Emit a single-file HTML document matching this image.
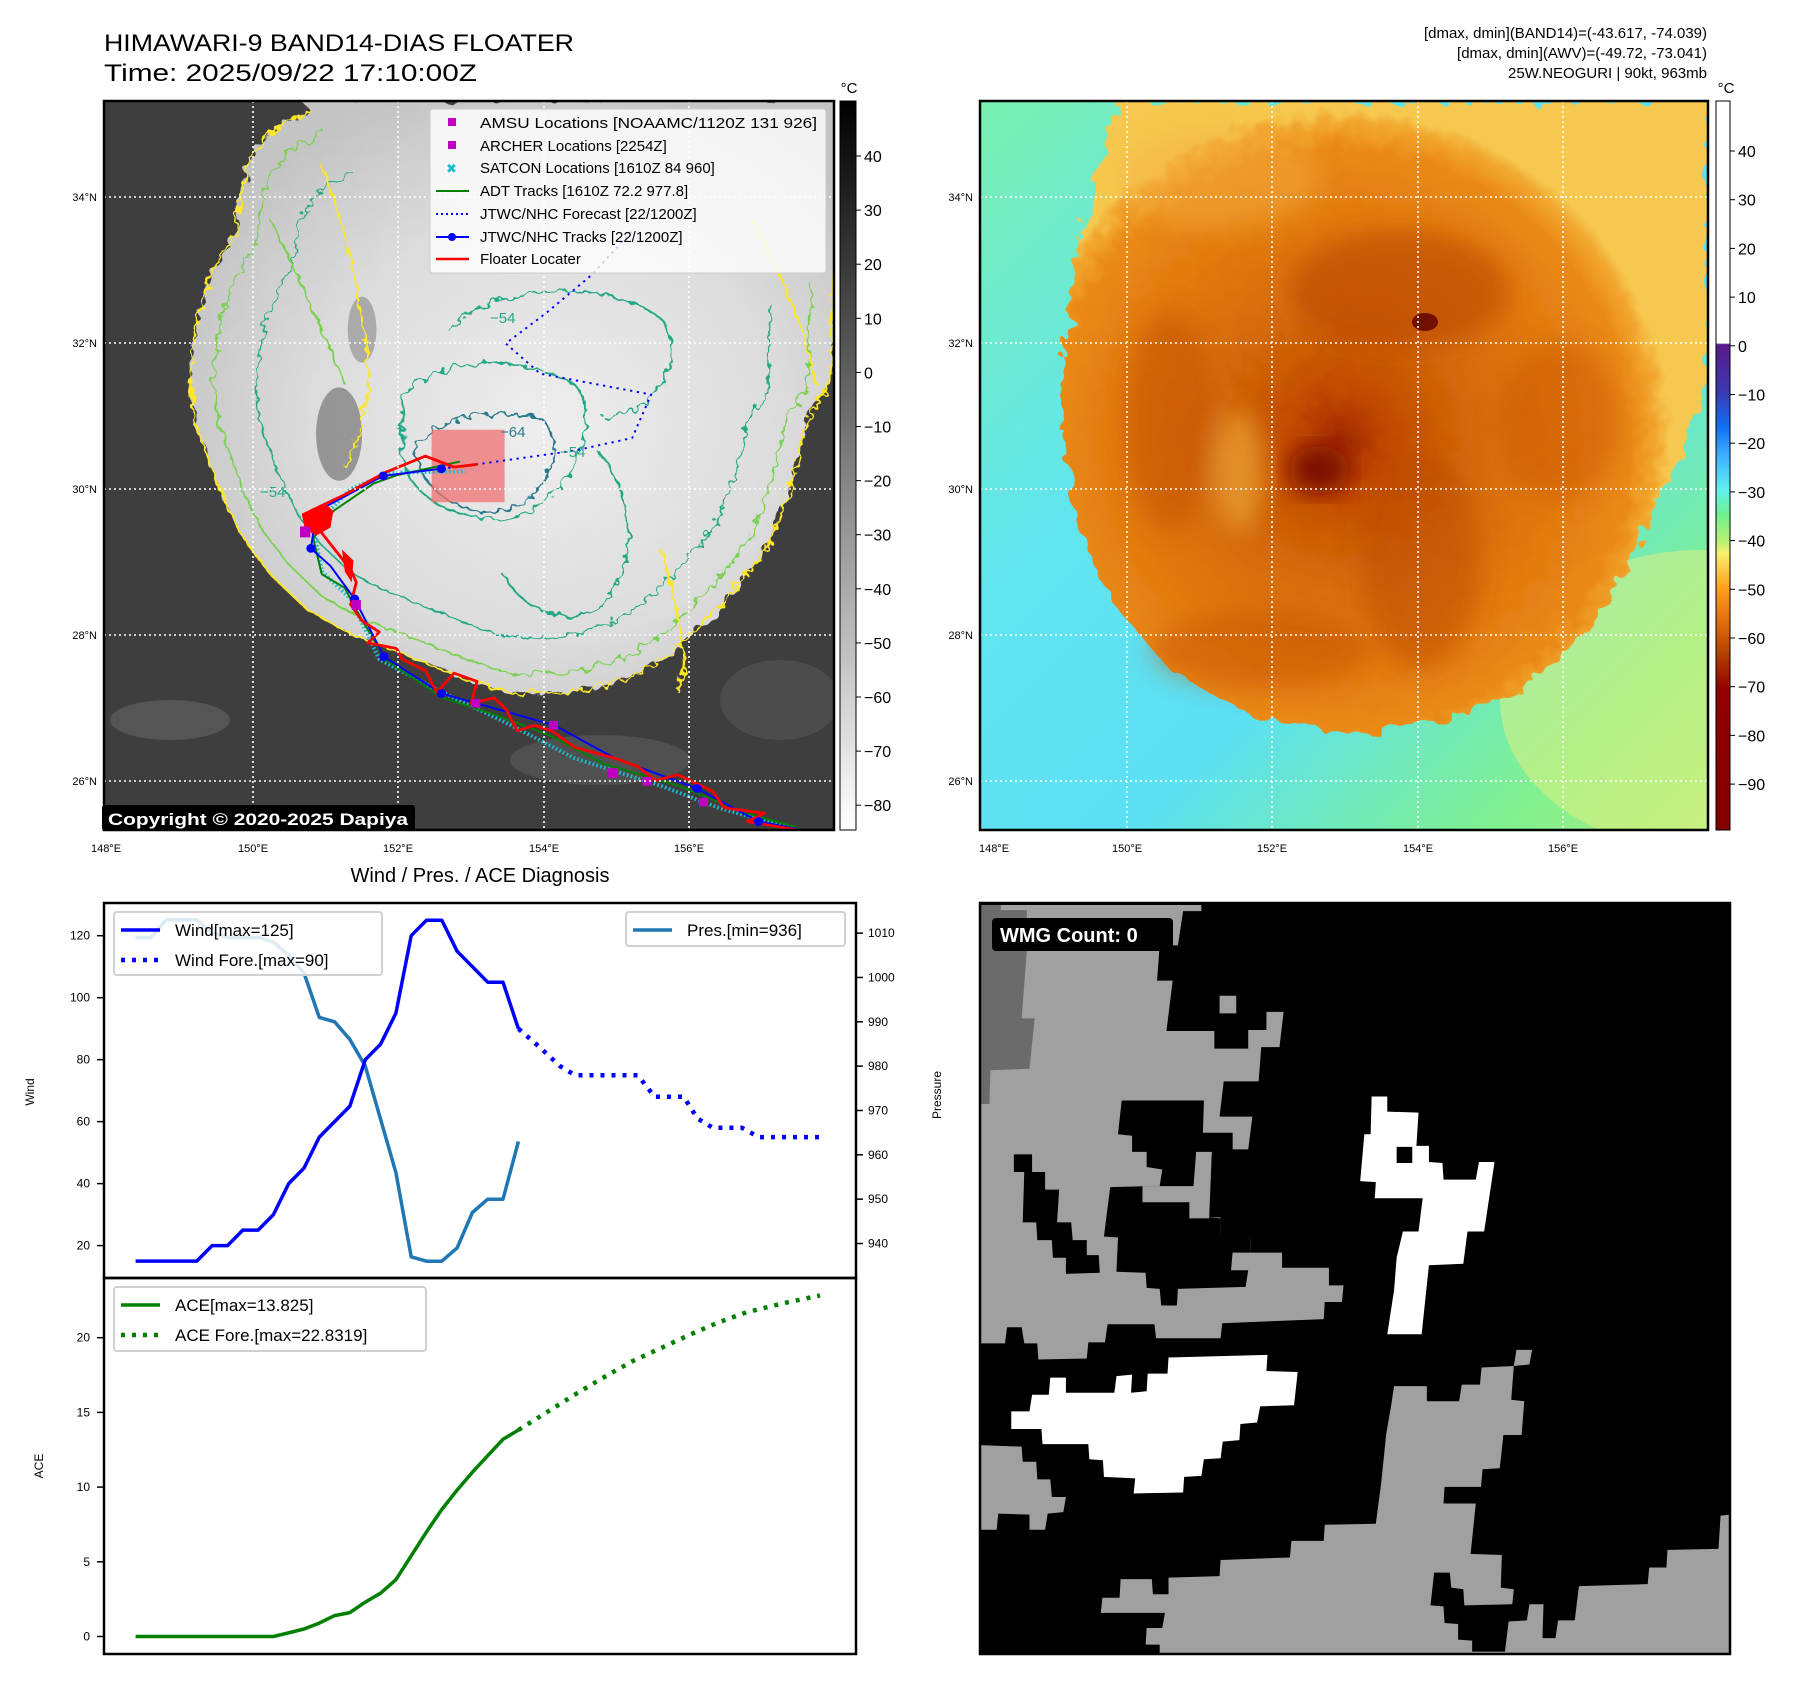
<!DOCTYPE html>
<html><head><meta charset="utf-8"><style>
html,body{margin:0;padding:0;background:#fff}
svg{display:block;font-family:"Liberation Sans","DejaVu Sans",sans-serif}
</style></head><body>
<svg id="fig" xmlns="http://www.w3.org/2000/svg" width="1797" height="1690" viewBox="0 0 1797 1690">
<defs>
<clipPath id="c1"><rect x="104" y="101" width="730" height="729"/></clipPath>
<clipPath id="c2"><rect x="980" y="101" width="728" height="729"/></clipPath>
<clipPath id="c3"><rect x="980" y="903" width="750" height="751"/></clipPath>
<filter id="rough" x="-10%" y="-10%" width="120%" height="120%"><feTurbulence type="fractalNoise" baseFrequency="0.035" numOctaves="2" seed="4"/><feDisplacementMap in="SourceGraphic" scale="28"/></filter>
<filter id="rough2" x="-10%" y="-10%" width="120%" height="120%"><feTurbulence type="fractalNoise" baseFrequency="0.06" numOctaves="2" seed="9"/><feDisplacementMap in="SourceGraphic" scale="22"/></filter>
<filter id="blur" x="-20%" y="-20%" width="140%" height="140%"><feGaussianBlur stdDeviation="12"/></filter>
<radialGradient id="cloudG" cx="0.55" cy="0.55" r="0.6"><stop offset="0" stop-color="#eeeeee"/><stop offset="0.6" stop-color="#dcdcdc"/><stop offset="1" stop-color="#c4c4c4"/></radialGradient>
<radialGradient id="stormG" cx="1340" cy="440" r="330" gradientUnits="userSpaceOnUse"><stop offset="0" stop-color="#a02800"/><stop offset="0.15" stop-color="#c04a00"/><stop offset="0.4" stop-color="#d46a08"/><stop offset="0.7" stop-color="#e27c10"/><stop offset="0.88" stop-color="#ea8a18"/><stop offset="0.96" stop-color="#f2a830"/><stop offset="1" stop-color="#f6c850"/></radialGradient>
<linearGradient id="bg2" x1="0" y1="0" x2="1" y2="1"><stop offset="0" stop-color="#7af0b0"/><stop offset="0.35" stop-color="#60e4f0"/><stop offset="0.6" stop-color="#5ce0f4"/><stop offset="0.85" stop-color="#80f090"/><stop offset="1" stop-color="#a8f080"/></linearGradient>
<linearGradient id="cb1" x1="0" y1="0" x2="0" y2="1"><stop offset="0" stop-color="#000"/><stop offset="1" stop-color="#fff"/></linearGradient>
<linearGradient id="cb2" x1="0" y1="0" x2="0" y2="1">
<stop offset="0" stop-color="#fff"/><stop offset="0.332" stop-color="#fff"/><stop offset="0.334" stop-color="#5a1a8a"/><stop offset="0.4" stop-color="#3a3ab0"/><stop offset="0.447" stop-color="#1070f0"/><stop offset="0.487" stop-color="#40b0ff"/><stop offset="0.533" stop-color="#60f0f0"/><stop offset="0.567" stop-color="#70f090"/><stop offset="0.607" stop-color="#c0f070"/><stop offset="0.62" stop-color="#f8f070"/><stop offset="0.667" stop-color="#ffa020"/><stop offset="0.713" stop-color="#e07010"/><stop offset="0.76" stop-color="#b04000"/><stop offset="0.807" stop-color="#900000"/><stop offset="1" stop-color="#800000"/></linearGradient>
</defs>

<text x="104" y="51" font-size="24" textLength="470" lengthAdjust="spacingAndGlyphs">HIMAWARI-9 BAND14-DIAS FLOATER</text>
<text x="104" y="81" font-size="24" textLength="373" lengthAdjust="spacingAndGlyphs">Time: 2025/09/22 17:10:00Z</text>
<g font-size="15" text-anchor="end">
<text x="1707" y="38">[dmax, dmin](BAND14)=(-43.617, -74.039)</text>
<text x="1707" y="58">[dmax, dmin](AWV)=(-49.72, -73.041)</text>
<text x="1707" y="78">25W.NEOGURI | 90kt, 963mb</text>
</g>

<!-- MAP 2 -->
<g clip-path="url(#c2)">
<rect x="980" y="101" width="728" height="729" fill="url(#bg2)"/>
<ellipse cx="1700" cy="700" rx="200" ry="150" fill="#e8f080" opacity="0.5"/>
<path filter="url(#rough2)" fill="url(#stormG)" d="M1120,101 L1100,160 1075,260 1060,400 1075,520 1110,600 1170,670 1260,720 1360,735 1450,720 1520,690 1580,640 1630,560 1680,460 1708,380 1708,101 Z"/>
<g filter="url(#blur)">
<ellipse cx="1400" cy="290" rx="110" ry="60" fill="#b84400" opacity="0.55"/>
<ellipse cx="1170" cy="420" rx="45" ry="110" fill="#c04c00" opacity="0.45"/>
<ellipse cx="1420" cy="560" rx="60" ry="110" fill="#b84400" opacity="0.45"/>
<ellipse cx="1260" cy="650" rx="110" ry="40" fill="#c04c00" opacity="0.4"/>
<ellipse cx="1560" cy="420" rx="60" ry="80" fill="#c85000" opacity="0.4"/>
<ellipse cx="1220" cy="180" rx="100" ry="50" fill="#f4b040" opacity="0.45"/>
<ellipse cx="1240" cy="470" rx="25" ry="60" fill="#f8c050" opacity="0.5"/>
</g>
<ellipse cx="1319" cy="470" rx="30" ry="24" fill="#7a1000" filter="url(#blur)"/>
<ellipse cx="1425" cy="322" rx="13" ry="9" fill="#701000"/>
</g>
<g stroke="#fff" stroke-width="1.6" stroke-dasharray="2 3">
<line x1="1127" y1="101" x2="1127" y2="830"/><line x1="1272" y1="101" x2="1272" y2="830"/><line x1="1418" y1="101" x2="1418" y2="830"/><line x1="1563" y1="101" x2="1563" y2="830"/>
<line x1="980" y1="197" x2="1708" y2="197"/><line x1="980" y1="343" x2="1708" y2="343"/><line x1="980" y1="489" x2="1708" y2="489"/><line x1="980" y1="635" x2="1708" y2="635"/><line x1="980" y1="781" x2="1708" y2="781"/>
</g>
<rect x="980" y="101" width="728" height="729" fill="none" stroke="#000" stroke-width="2.5"/>
<g font-size="11" text-anchor="end">
<text x="973" y="201">34°N</text><text x="973" y="347">32°N</text><text x="973" y="493">30°N</text><text x="973" y="639">28°N</text><text x="973" y="785">26°N</text></g>
<g font-size="11" text-anchor="middle">
<text x="994" y="852">148°E</text><text x="1127" y="852">150°E</text><text x="1272" y="852">152°E</text><text x="1418" y="852">154°E</text><text x="1563" y="852">156°E</text></g>
<g>
<rect x="1716" y="101" width="14" height="729" fill="url(#cb2)" stroke="#000" stroke-width="1"/>
<text x="1726" y="93" font-size="15" text-anchor="middle">°C</text>
<g id="cb2ticks" font-size="16"></g></g>

<!-- WMG panel -->
<g clip-path="url(#c3)">
<rect x="980" y="903" width="750" height="751" fill="#000"/>
<g transform="translate(980,900) scale(0.5208,0.5038)">
<path fill="#a0a0a0" d="M0,10 L425,10 425,22 390,22 380,90 345,90 340,160 370,160 358,260 450,260 450,295 515,295 515,258 550,258 550,222 583,222 575,292 540,292 535,360 468,360 460,430 523,430 515,495 485,495 485,465 458,465 445,500 440,630 462,630 462,668 520,668 520,700 580,700 580,730 670,730 670,765 698,765 695,798 662,798 660,832 465,840 462,870 338,870 335,842 245,842 240,878 208,878 205,910 112,912 110,880 85,880 80,848 52,848 48,880 0,880 Z"/>
<path fill="#6b6b6b" d="M0,10 L40,10 40,20 90,20 90,100 80,235 105,235 95,335 20,338 18,405 0,405 Z"/>
<path fill="#000" d="M272,398 L430,398 428,462 485,462 485,495 445,500 440,630 462,632 462,668 520,668 520,700 485,700 482,735 515,735 510,768 380,772 378,805 348,805 345,772 320,770 318,740 262,738 265,670 238,668 250,570 320,568 345,568 350,535 320,530 320,500 292,500 292,468 265,465 Z"/>
<path fill="#a0a0a0" d="M312,568 L410,568 415,500 445,500 440,632 402,632 402,600 312,600 Z"/>
<path fill="#000" d="M65,505 L100,505 100,540 125,540 125,575 152,575 148,640 175,640 178,675 205,675 205,705 228,705 230,740 165,742 165,710 140,710 138,675 110,675 108,640 82,640 85,540 65,540 Z"/>
<rect x="460" y="190" width="32" height="35" fill="#a0a0a0"/>
<path fill="#fff" d="M752,390 L782,390 782,420 842,422 838,488 862,488 862,520 888,522 890,555 952,555 958,520 988,520 968,658 936,658 928,722 862,725 848,862 782,862 795,775 800,710 812,658 842,658 850,592 758,592 760,560 730,558 738,465 750,465 Z"/>
<rect x="800" y="490" width="30" height="32" fill="#000"/>
<path fill="#fff" d="M60,1015 L95,1015 100,982 132,982 135,948 165,948 165,978 258,978 262,945 292,942 290,978 320,975 322,940 360,940 362,908 552,903 550,935 610,937 603,1003 538,1005 532,1037 500,1040 498,1072 466,1075 462,1108 430,1110 425,1143 392,1145 390,1176 295,1178 298,1148 238,1145 236,1112 210,1110 208,1080 120,1080 118,1050 60,1050 Z"/>
<path fill="#a0a0a0" d="M0,1082 L80,1085 82,1115 108,1115 110,1150 135,1150 138,1185 165,1185 160,1215 130,1218 125,1250 95,1250 95,1220 35,1218 32,1250 0,1250 Z"/>
<path fill="#a0a0a0" d="M795,965 L858,965 858,995 920,995 925,962 960,962 963,928 1025,925 1030,893 1060,893 1055,922 1025,925 1020,992 1045,995 1040,1062 1005,1062 998,1128 965,1130 962,1165 892,1165 890,1198 952,1198 942,1298 1002,1300 1000,1365 1025,1368 1022,1398 930,1400 928,1368 905,1365 902,1335 872,1335 865,1400 890,1402 892,1435 918,1437 918,1468 945,1470 945,1492 1008,1492 1015,1432 1050,1430 1055,1398 1082,1398 1080,1465 1105,1465 1110,1430 1142,1430 1150,1362 1282,1358 1285,1325 1318,1325 1320,1290 1418,1288 1422,1222 1440,1220 1440,1500 345,1500 345,1478 318,1478 320,1445 350,1445 355,1415 232,1415 235,1385 268,1385 270,1348 330,1348 332,1378 362,1378 362,1345 460,1342 462,1310 595,1305 598,1272 660,1272 662,1240 760,1238 770,1160 780,1060 790,1000 Z"/>
</g>
<g><rect x="992" y="918" width="181" height="33" rx="4" fill="#000"/><text x="1000" y="942" fill="#fff" font-weight="bold" font-size="20">WMG Count: 0</text></g>
</g>
<rect x="980" y="903" width="750" height="751" fill="none" stroke="#000" stroke-width="2.5"/>

<!-- Diagnosis chart -->
<text x="480" y="882" font-size="20" text-anchor="middle">Wind / Pres. / ACE Diagnosis</text>
<g id="chart"></g>

<!-- MAP 1 -->
<g clip-path="url(#c1)">
<rect x="104" y="101" width="730" height="729" fill="#3e3e3e"/>
<ellipse cx="170" cy="720" rx="60" ry="20" fill="#555"/>
<ellipse cx="600" cy="760" rx="90" ry="25" fill="#505050"/>
<ellipse cx="780" cy="700" rx="60" ry="40" fill="#4c4c4c"/>
<g transform="scale(0.5747,0.5495)">
<path filter="url(#rough)" fill="url(#cloudG)" d="M520,180 L540,200 470,240 430,300 410,420 375,480 345,570 330,690 340,770 365,840 390,910 420,975 470,1045 535,1110 605,1150 700,1190 800,1232 890,1262 1000,1258 1085,1238 1165,1192 1255,1100 1335,1000 1380,870 1405,760 1445,700 1460,500 1460,180 Z"/>
<ellipse cx="590" cy="790" rx="40" ry="85" fill="#666" opacity="0.6"/>
<ellipse cx="630" cy="600" rx="25" ry="60" fill="#777" opacity="0.5"/>
<g fill="none" stroke-width="3.5" filter="url(#rough2)">
<path stroke="#fde725" d="M540,200 L470,240 430,300 410,420 375,480 345,570 330,690 340,770 365,840 390,910 420,975 470,1045 535,1110 605,1150 700,1190 800,1232 890,1262 1000,1258 1085,1238 1165,1192 1255,1100 1335,1000 1380,870 1405,760 1445,700 1450,500"/>
<path stroke="#7ad151" transform="translate(900,760) scale(0.93) translate(-900,-760)" d="M540,200 L470,240 430,300 410,420 375,480 345,570 330,690 340,770 365,840 390,910 420,975 470,1045 535,1110 605,1150 700,1190 800,1232 890,1262 1000,1258 1085,1238 1165,1192 1255,1100 1335,1000 1380,870 1405,760 1445,700 1450,500"/>
<path stroke="#22a884" transform="translate(900,760) scale(0.8) translate(-900,-760)" d="M540,200 L470,240 430,300 410,420 375,480 345,570 330,690 340,770 365,840 390,910 420,975 470,1045 535,1110 605,1150 700,1190 800,1232 890,1262 1000,1258 1085,1238 1165,1192 1255,1100 1335,1000 1380,870 1405,760 1445,700 1450,500"/>
<path stroke="#22a884" d="M700,720 C760,650 900,640 1000,700 C1050,760 1000,900 900,940 C800,960 700,900 700,820 Z"/>
<path stroke="#22a884" d="M780,600 C850,520 1050,500 1150,580 C1200,650 1150,750 1050,760"/>
<path stroke="#2a788e" d="M720,820 C760,760 850,740 940,760 C990,800 960,900 880,930 C800,940 740,900 720,820 Z"/>
<path stroke="#22a884" d="M1040,820 C1100,900 1120,1000 1050,1100 C980,1150 900,1100 880,1050"/>
<path stroke="#7ad151" d="M470,400 C520,500 560,600 600,700"/>
<path stroke="#fde725" d="M560,300 C600,400 620,500 640,650 C650,720 620,800 600,850"/>
<path stroke="#fde725" d="M1310,400 C1360,500 1400,600 1420,700"/>
<path stroke="#fde725" d="M1150,1000 C1180,1100 1200,1200 1180,1260"/>
</g>
<rect x="751" y="782" width="127" height="132" fill="#f07070" opacity="0.75"/>
<g fill="none" stroke-linejoin="round">
<polyline stroke="#17becf" stroke-width="7" stroke-dasharray="3 4" points="1385,1510 1250,1470 1150,1430 1000,1380 880,1315 760,1255 660,1200 610,1090 560,1040 545,960 610,890 680,860 810,858"/>
<polyline stroke="#008000" stroke-width="3.5" points="1385,1505 1300,1480 1180,1430 1050,1390 960,1340 860,1300 770,1270 670,1200 620,1110 600,1070 560,1045 545,980 580,930 650,880 690,865 800,840"/>
<polyline stroke="#0000ff" stroke-width="3.5" stroke-dasharray="4 8" points="768,853 830,845 1000,820 1100,797 1133,718 940,680 880,625 950,570 1030,500 1100,420"/>
<polyline stroke="#0000ff" stroke-width="3.5" points="1385,1508 1320,1495 1213,1435 1070,1380 965,1320 768,1262 668,1195 617,1090 575,1030 541,998 548,950 570,920 667,866 768,853"/>
<polyline stroke="#ff0000" stroke-width="5" points="1385,1510 1300,1495 1330,1480 1260,1470 1240,1440 1180,1410 1140,1420 1110,1395 1070,1380 1000,1360 960,1330 930,1320 900,1330 880,1290 860,1270 820,1280 830,1240 790,1225 760,1260 740,1220 700,1200 690,1180 640,1170 660,1150 630,1130 610,1100 620,1060 612,1040 590,1010 545,950 540,930 570,915 600,900 670,860 740,830 790,850 830,845"/>
<path fill="#ff0000" d="M525,935 L565,915 580,930 575,960 550,975 530,960 Z"/>
<path fill="#ff0000" d="M595,1000 L615,1020 612,1060 600,1040 Z"/>
<g fill="#0000ff"><circle cx="1213" cy="1435" r="8"/><circle cx="768" cy="1262" r="8"/><circle cx="668" cy="1195" r="8"/><circle cx="617" cy="1090" r="8"/><circle cx="541" cy="998" r="8"/><circle cx="667" cy="866" r="8"/><circle cx="768" cy="853" r="8"/><circle cx="1320" cy="1495" r="8"/></g>
<g fill="#c000c0"><rect x="522" y="958" width="18" height="20"/><rect x="1057" y="1398" width="18" height="18"/><rect x="1118" y="1414" width="16" height="16"/><rect x="1216" y="1452" width="16" height="16"/><rect x="612" y="1092" width="16" height="18"/><rect x="820" y="1272" width="16" height="16"/><rect x="955" y="1312" width="16" height="16"/></g>
</g>
</g>
</g>
<g font-size="15" fill="#22a884">
<text x="260" y="497">−54</text><text x="490" y="323">−54</text><text x="560" y="457">−54</text><text x="500" y="437" fill="#2a788e">−64</text>
</g>
<g stroke="#fff" stroke-width="1.6" stroke-dasharray="2 3">
<line x1="253" y1="101" x2="253" y2="830"/><line x1="398" y1="101" x2="398" y2="830"/><line x1="544" y1="101" x2="544" y2="830"/><line x1="689" y1="101" x2="689" y2="830"/>
<line x1="104" y1="197" x2="834" y2="197"/><line x1="104" y1="343" x2="834" y2="343"/><line x1="104" y1="489" x2="834" y2="489"/><line x1="104" y1="635" x2="834" y2="635"/><line x1="104" y1="781" x2="834" y2="781"/>
</g>
<rect x="104" y="101" width="730" height="729" fill="none" stroke="#000" stroke-width="2.5"/>
<g>
<rect x="430" y="109" width="396" height="164" rx="3" fill="#fff" fill-opacity="0.8" stroke="#ccc"/>
<g font-size="15">
<rect x="448" y="118" width="8" height="8" fill="#c000c0"/><text x="480" y="128" textLength="337" lengthAdjust="spacingAndGlyphs">AMSU Locations [NOAAMC/1120Z 131 926]</text>
<rect x="448" y="141" width="8" height="8" fill="#c000c0"/><text x="480" y="151">ARCHER Locations [2254Z]</text>
<text x="446" y="173" fill="#17becf" font-size="13">✖</text><text x="480" y="173">SATCON Locations [1610Z 84 960]</text>
<line x1="436" y1="191" x2="469" y2="191" stroke="#008000" stroke-width="2"/><text x="480" y="196">ADT Tracks [1610Z 72.2 977.8]</text>
<line x1="436" y1="214" x2="469" y2="214" stroke="#0000ff" stroke-width="2" stroke-dasharray="2 3"/><text x="480" y="219">JTWC/NHC Forecast [22/1200Z]</text>
<line x1="436" y1="237" x2="469" y2="237" stroke="#0000ff" stroke-width="2"/><circle cx="452" cy="237" r="4" fill="#0000ff"/><text x="480" y="242">JTWC/NHC Tracks [22/1200Z]</text>
<line x1="436" y1="259" x2="469" y2="259" stroke="#ff0000" stroke-width="2.5"/><text x="480" y="264">Floater Locater</text>
</g></g>
<g><rect x="102" y="805" width="313" height="26" rx="3" fill="#000"/><text x="108" y="825" fill="#fff" font-weight="bold" font-size="17" textLength="300" lengthAdjust="spacingAndGlyphs">Copyright © 2020-2025 Dapiya</text></g>
<g font-size="11" text-anchor="end">
<text x="97" y="201">34°N</text><text x="97" y="347">32°N</text><text x="97" y="493">30°N</text><text x="97" y="639">28°N</text><text x="97" y="785">26°N</text></g>
<g font-size="11" text-anchor="middle">
<text x="106" y="852">148°E</text><text x="253" y="852">150°E</text><text x="398" y="852">152°E</text><text x="544" y="852">154°E</text><text x="689" y="852">156°E</text></g>
<g>
<rect x="840" y="101" width="16" height="729" fill="url(#cb1)" stroke="#000" stroke-width="1"/>
<text x="849" y="93" font-size="15" text-anchor="middle">°C</text>
<g id="cb1ticks" font-size="16"></g></g>
</svg>
<script>
const obsTimes = [0,1,2,3,4,5,6,7,8,9,10,11,12,13,14,15,16,17,18,19,20,21,22,23,24,25];
const windObs = [15,15,15,15,15,20,20,25,25,30,40,45,55,60,65,80,85,95,120,125,125,115,110,105,105,90];
const presObs = [1009,1009,1013,1013,1013,1010,1009,1009,1009,1008,1005,1001,991,990,986,980,968,956,937,936,936,939,947,950,950,963];
const aceObs = [0,0,0,0,0,0,0,0,0,0,0.25,0.5,0.9,1.4,1.6,2.3,2.9,3.8,5.4,7.0,8.5,9.8,11.0,12.1,13.2,13.825];
const foreTimes = [25,26.4,27.7,28.7,32.8,33.9,35.8,36.7,37.7,39.6,40.7,44.7];
const windFore = [90,84,78,75,75,68,68,61,58,58,55,55];
const aceForeTimes = [25,27,28.7,30.5,32.4,34.3,36.2,38,39.9,42.3,44.7];
const aceFore = [13.825,15.1,16.2,17.3,18.4,19.3,20.2,21.0,21.7,22.3,22.83];
const windTicks = [20,40,60,80,100,120];
const presTicks = [940,950,960,970,980,990,1000,1010];
const aceTicks = [0,5,10,15,20];
const cb1Ticks = [40,30,20,10,0,-10,-20,-30,-40,-50,-60,-70,-80];
const cb2Ticks = [40,30,20,10,0,-10,-20,-30,-40,-50,-60,-70,-80,-90];

const NS='http://www.w3.org/2000/svg';
function mk(tag, attrs, parent){const e=document.createElementNS(NS,tag);for(const k in attrs)e.setAttribute(k,attrs[k]);parent.appendChild(e);return e;}
const X = t => 135.6 + 15.31*t;
const YW = v => 1245.6 - (v-20)*3.099;
const YP = p => 1243.5 - (p-940)*4.434;
const YA = a => 1636.5 - a*14.94;
const L=104, R=856, T=903, MID=1278, B=1654;
const chart=document.getElementById('chart');

function line(ts, vs, yf, color, dash, name){
  const p=mk('polyline',{points:ts.map((t,i)=>X(t).toFixed(1)+','+yf(vs[i]).toFixed(1)).join(' '),fill:'none',stroke:color,'stroke-width':dash?4.5:3.5,'stroke-linejoin':'round'},chart);
  if(dash)p.setAttribute('stroke-dasharray','4 7');
  
  
}
line(obsTimes, presObs, YP, '#1f77b4', false, 'pressure-line');
line(obsTimes, windObs, YW, '#0000ff', false, 'wind-line');
line(foreTimes, windFore, YW, '#0000ff', true, 'wind-forecast-line');
line(obsTimes, aceObs, YA, '#008000', false, 'ace-line');
line(aceForeTimes, aceFore, YA, '#008000', true, 'ace-forecast-line');

const f1=mk('rect',{x:L,y:T,width:R-L,height:MID-T,fill:'none',stroke:'#000','stroke-width':2.5},chart);


const f2=mk('rect',{x:L,y:MID,width:R-L,height:B-MID,fill:'none',stroke:'#000','stroke-width':2.5},chart);



function ticks(vals, yf, side, name){
  const g=mk('g',{'font-size':12},chart);
  
  
  vals.forEach(v=>{const y=yf(v);
    if(side==='L'){mk('line',{x1:L-7,x2:L,y1:y,y2:y,stroke:'#000','stroke-width':1.5},g);const t=mk('text',{x:L-14,y:y+4,'text-anchor':'end'},g);t.textContent=v;}
    else{mk('line',{x1:R,x2:R+7,y1:y,y2:y,stroke:'#000','stroke-width':1.5},g);const t=mk('text',{x:R+12,y:y+4},g);t.textContent=v;}
  });
}
ticks(windTicks, YW, 'L', 'wind-axis-ticks');
ticks(presTicks, YP, 'R', 'pressure-axis-ticks');
ticks(aceTicks, YA, 'L', 'ace-axis-ticks');

function vlabel(txt,x,y,name){const t=mk('text',{x:x,y:y,'font-size':12,'text-anchor':'middle',transform:`rotate(-90 ${x} ${y})`},chart);t.textContent=txt;
  
  }
vlabel('Wind',34,1092,'wind-axis-title');
vlabel('ACE',43,1466,'ace-axis-title');
vlabel('Pressure',941,1095,'pressure-axis-title');

function legend(x,y,w,h,items,name){
  const g=mk('g',{},chart);
  
  
  mk('rect',{x:x,y:y,width:w,height:h,rx:3,fill:'#fff','fill-opacity':0.85,stroke:'#d0d0d0','stroke-width':2},g);
  items.forEach((it,i)=>{const cy=y+18+i*30;
    const l=mk('line',{x1:x+7,x2:x+46,y1:cy,y2:cy,stroke:it[1],'stroke-width':it[2]?4.5:3.5},g);
    if(it[2])l.setAttribute('stroke-dasharray','4 7');
    const t=mk('text',{x:x+61,y:cy+6,'font-size':17},g);t.textContent=it[0];});
}
legend(114,912,268,63,[['Wind[max=125]','#0000ff',false],['Wind Fore.[max=90]','#0000ff',true]],'wind-legend');
legend(626,912,219,34,[['Pres.[min=936]','#1f77b4',false]],'pressure-legend');
legend(114,1287,312,64,[['ACE[max=13.825]','#008000',false],['ACE Fore.[max=22.8319]','#008000',true]],'ace-legend');

const cb1=document.getElementById('cb1ticks');
cb1Ticks.forEach(v=>{const y=156+(40-v)*5.41;mk('line',{x1:856,x2:861,y1:y,y2:y,stroke:'#000'},cb1);const t=mk('text',{x:864,y:y+6},cb1);t.textContent=v<0?'−'+(-v):v;});
const cb2=document.getElementById('cb2ticks');
cb2Ticks.forEach(v=>{const y=151+(40-v)*4.87;mk('line',{x1:1730,x2:1735,y1:y,y2:y,stroke:'#000'},cb2);const t=mk('text',{x:1738,y:y+6},cb2);t.textContent=v<0?'−'+(-v):v;});
</script>
</body></html>
